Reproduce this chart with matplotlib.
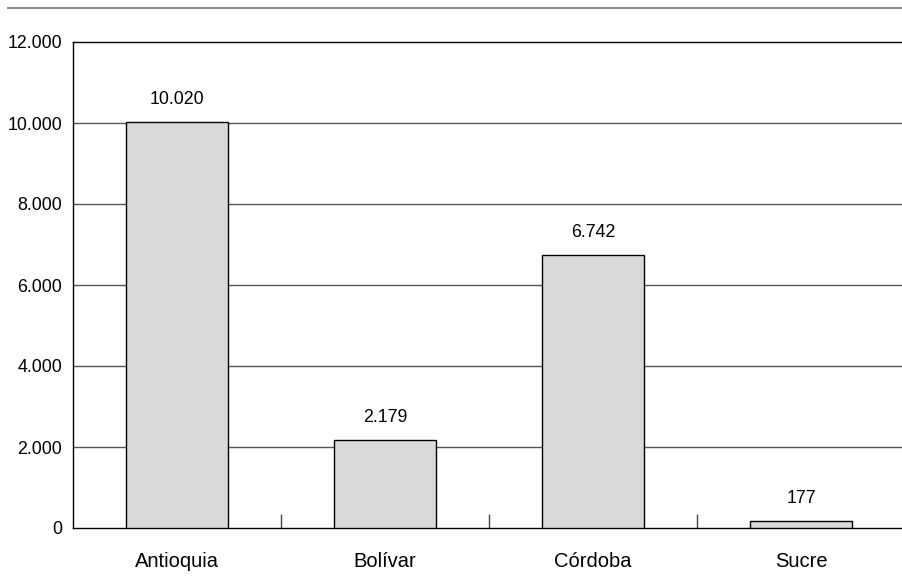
import matplotlib.pyplot as plt
import matplotlib.lines as mlines
from matplotlib.ticker import FuncFormatter, FixedLocator

departamentos = ['Antioquia', 'Bolívar', 'Córdoba', 'Sucre']
valores = [10020, 2179, 6742, 177]
y_ticks = [0, 2000, 4000, 6000, 8000, 10000, 12000]

plt.rcParams['font.family'] = ['Liberation Sans', 'DejaVu Sans']


def miles(v, pos=None):
    # thousands separator with a dot
    return f'{int(v):,}'.replace(',', '.')


fig = plt.figure(figsize=(9.03, 5.77), dpi=100)
ax = fig.add_axes([73 / 903, 49 / 577, 832 / 903, 486 / 577])

x = range(len(departamentos))
bars = ax.bar(x, valores, width=0.49, color='#d9d9d9', edgecolor='black',
              linewidth=1.0, zorder=3)
for b, v in zip(bars, valores):
    ax.text(b.get_x() + b.get_width() / 2, v + 340, miles(v),
            ha='center', va='bottom', fontsize=12.8)

ax.set_xlim(-0.5, len(departamentos) - 0.5)
ax.set_ylim(0, 12000)
ax.set_yticks(y_ticks)
ax.yaxis.set_major_formatter(FuncFormatter(miles))
ax.set_xticks(list(x))
ax.set_xticklabels(departamentos)
ax.xaxis.set_minor_locator(FixedLocator([0.5, 1.5, 2.5]))
ax.tick_params(axis='x', which='major', length=0, pad=17, labelsize=14.5)
ax.tick_params(axis='x', which='minor', direction='in', length=10,
               width=1.0, color='#444444')
ax.tick_params(axis='y', length=0, pad=8, labelsize=12.8)

for y in y_ticks[1:-1]:
    ax.axhline(y, color='#555555', linewidth=1.0, zorder=1)

ax.spines['right'].set_visible(False)
for s in ['left', 'bottom', 'top']:
    ax.spines[s].set_color('black')
    ax.spines[s].set_linewidth(1.0)

# rule under the heading
fig.add_artist(mlines.Line2D([8 / 903, 1.0], [1 - 8 / 577, 1 - 8 / 577],
                             color='#888888', linewidth=1.5))

fig.savefig('out.png', dpi=100)
